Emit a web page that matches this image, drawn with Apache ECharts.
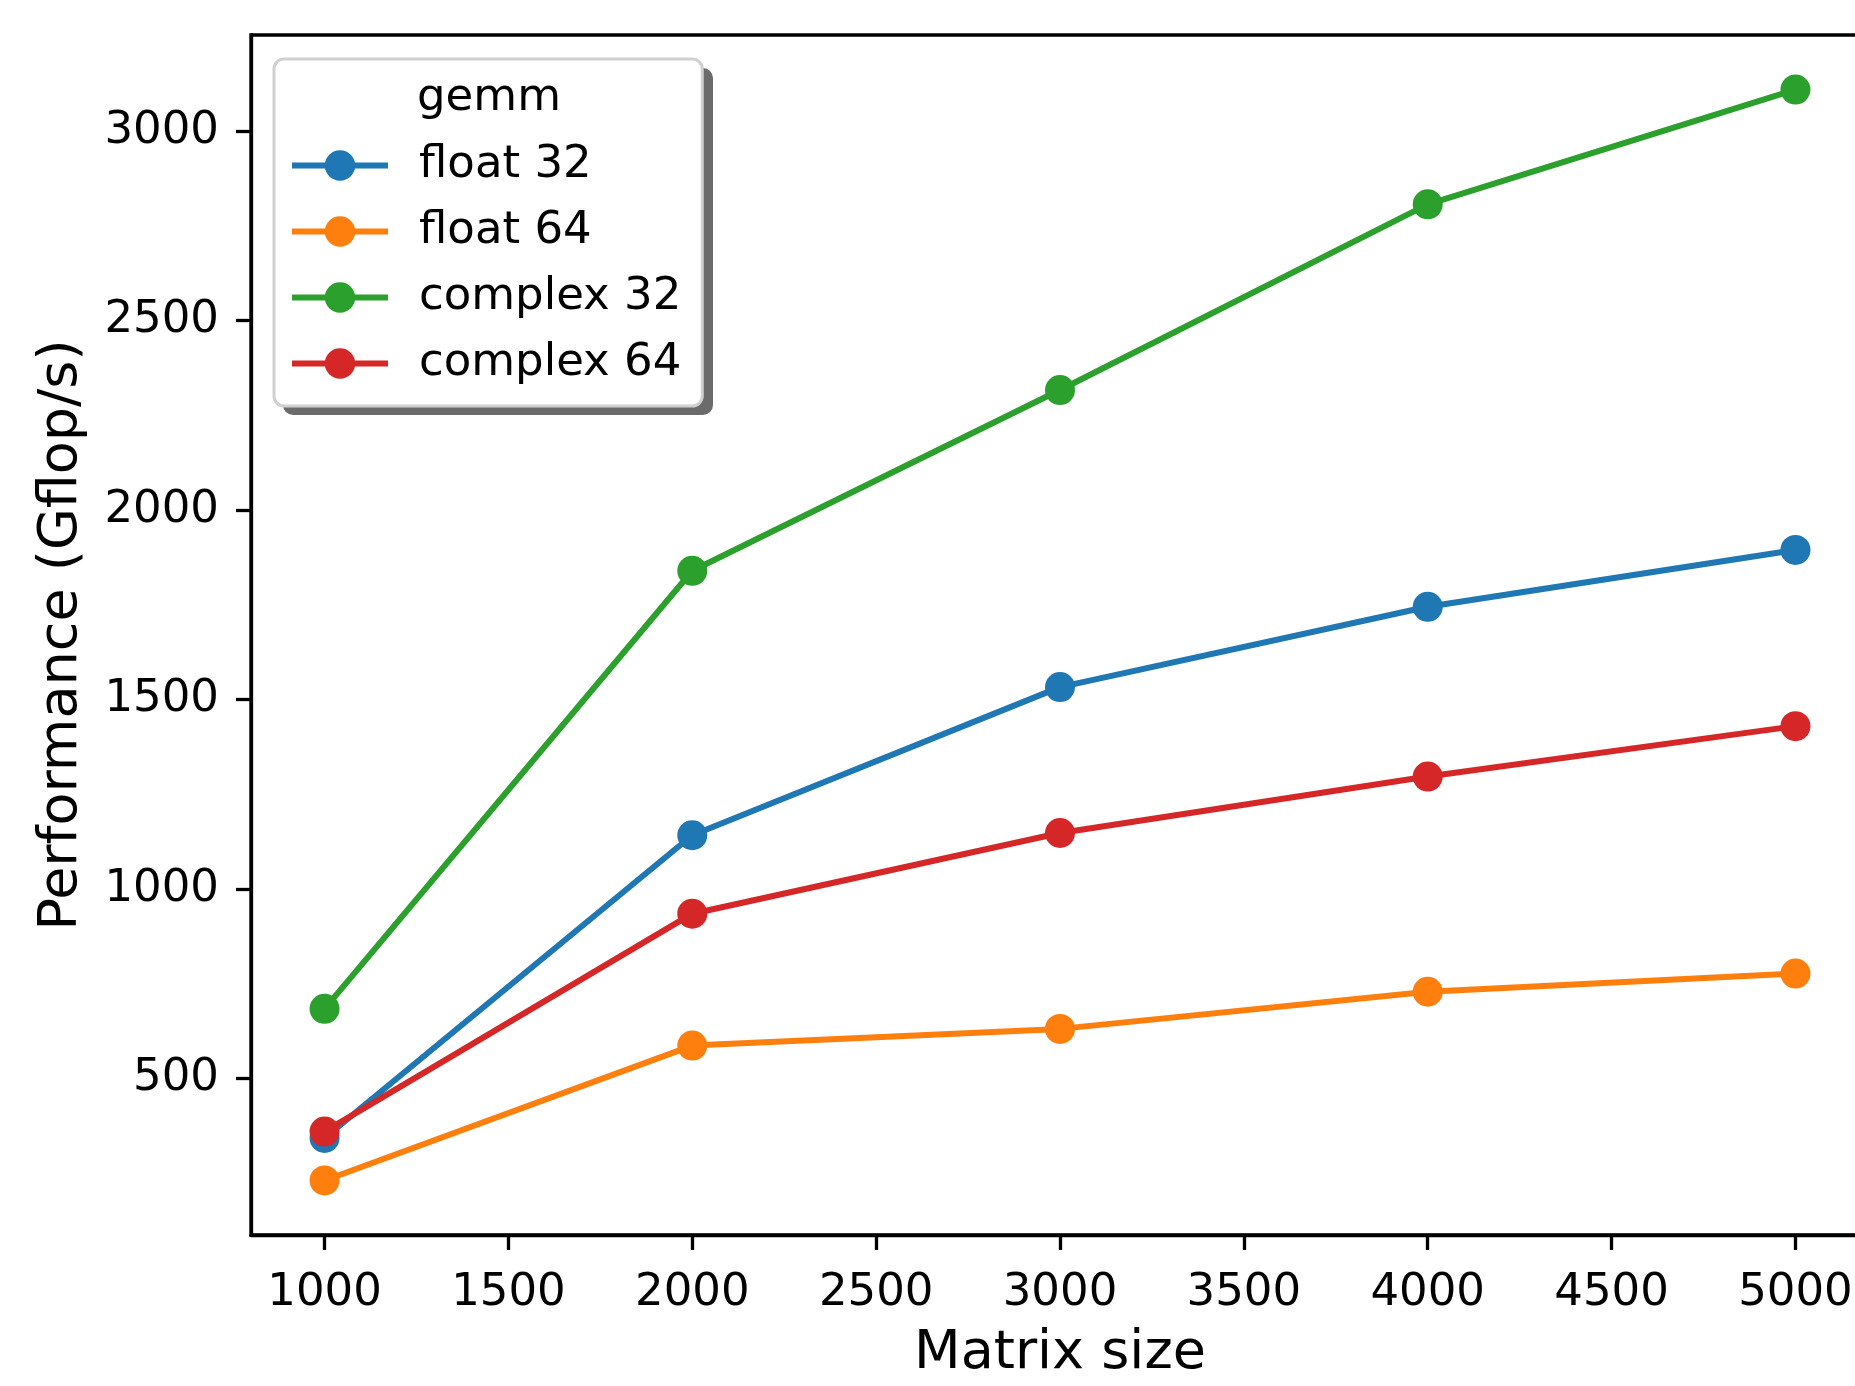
<!DOCTYPE html>
<html>
<head>
<meta charset="UTF-8">
<title>gemm performance</title>
<script src="https://cdn.jsdelivr.net/npm/echarts@6/dist/echarts.min.js"></script>
<style>
    html, body { margin: 0; padding: 0; background: #fff; overflow: hidden; }
    /* plot runs a bit past the right edge of the window, like the cropped original */
    #main { width: 1900px; height: 1386px; }
</style>
</head>
<body>
<div id="main"></div>
<script type="text/javascript">
    // matrix sizes on the x axis
    var sizes = [1000, 2000, 3000, 4000, 5000];
    var xTicks = [1000, 1500, 2000, 2500, 3000, 3500, 4000, 4500, 5000];
    var yTicks = [500, 1000, 1500, 2000, 2500, 3000];

    // Gflop/s
    var float32 = [343, 1142, 1533, 1745, 1895];
    var float64 = [231, 587, 631, 729, 777];
    var complex32 = [684, 1840, 2317, 2807, 3110];
    var complex64 = [360, 935, 1148, 1297, 1430];

    var names = ['float 32', 'float 64', 'complex 32', 'complex 64'];
    var colors = ['#1f77b4', '#ff7f0e', '#2ca02c', '#d62728'];
    var values = [float32, float64, complex32, complex64];

    var font = 'DejaVu Sans';

    // matplotlib style 5% margins
    var all = [].concat(float32, float64, complex32, complex64);
    var yLo = Math.min.apply(null, all), yHi = Math.max.apply(null, all);
    var yPad = (yHi - yLo) * 0.05;
    var xPad = (sizes[sizes.length - 1] - sizes[0]) * 0.05;

    var series = names.map(function (n, i) {
        return {
            name: n,
            type: 'line',
            data: sizes.map(function (s, j) { return [s, values[i][j]]; }),
            symbol: 'circle',
            symbolSize: 30,
            showSymbol: true,
            color: colors[i],
            itemStyle: { color: colors[i] },
            lineStyle: { width: 6, color: colors[i] },
            emphasis: { disabled: true }
        };
    });

    var plain = function (v) { return String(v); };

    var myChart = echarts.init(document.getElementById('main'));

    var option = {
        backgroundColor: '#fff',
        animation: false,
        grid: {
            left: 251,
            top: 35,
            bottom: 145,
            right: 31,
            show: true,
            borderColor: '#000',
            borderWidth: 3.3,
            backgroundColor: 'transparent'
        },
        xAxis: {
            type: 'value',
            min: sizes[0] - xPad,
            max: sizes[sizes.length - 1] + xPad,
            name: 'Matrix size',
            nameLocation: 'middle',
            nameGap: 92,
            nameTextStyle: { fontSize: 54, fontFamily: font, color: '#000' },
            axisLine: { lineStyle: { color: '#000', width: 3.3 } },
            axisTick: { show: true, length: 15, lineStyle: { color: '#000', width: 3.3 }, customValues: xTicks },
            axisLabel: { fontSize: 45, fontFamily: font, color: '#000', margin: 36, customValues: xTicks, formatter: plain },
            splitLine: { show: false }
        },
        yAxis: {
            type: 'value',
            min: yLo - yPad,
            max: yHi + yPad,
            name: 'Performance (Gflop/s)',
            nameLocation: 'middle',
            nameGap: 162,
            nameTextStyle: { fontSize: 54, fontFamily: font, color: '#000' },
            axisLine: { show: true, lineStyle: { color: '#000', width: 3.3 } },
            axisTick: { show: true, length: 15, lineStyle: { color: '#000', width: 3.3 }, customValues: yTicks },
            axisLabel: { fontSize: 45, fontFamily: font, color: '#000', margin: 32, customValues: yTicks, formatter: plain },
            splitLine: { show: false }
        },
        legend: {
            data: names,
            orient: 'vertical',
            left: 274,
            top: 59,
            padding: [84, 21, 20, 15],
            itemWidth: 96,
            itemHeight: 38,
            itemGap: 21,
            backgroundColor: '#fff',
            borderColor: '#d0d0d0',
            borderWidth: 3,
            borderRadius: 10,
            lineStyle: { width: 6 },
            textStyle: { fontSize: 45, fontFamily: font, color: '#000', lineHeight: 34, padding: [0, 0, 0, 26] },
            selectedMode: false
        },
        graphic: [{
            // drop shadow behind the legend frame
            type: 'rect',
            z: 1,
            shape: { x: 283, y: 68, width: 430, height: 347, r: 10 },
            style: { fill: '#6b6b6b' }
        }, {
            type: 'text',
            z: 100,
            x: 489,
            y: 98,
            style: {
                text: 'gemm',
                fontSize: 45,
                fontFamily: font,
                fill: '#000',
                align: 'center',
                verticalAlign: 'middle',
                textAlign: 'center',
                textVerticalAlign: 'middle'
            }
        }],
        series: series
    };
    myChart.setOption(option);
</script>
</body>
</html>
